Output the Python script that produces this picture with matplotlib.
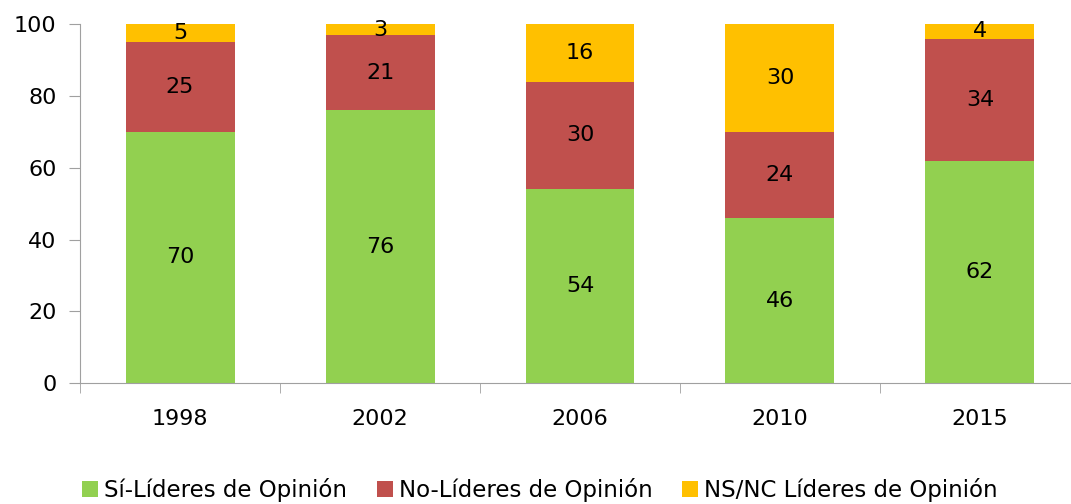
import matplotlib.pyplot as plt
import numpy as np

years = ['1998', '2002', '2006', '2010', '2015']
si = [70, 76, 54, 46, 62]
no = [25, 21, 30, 24, 34]
nsnc = [5, 3, 16, 30, 4]

labels = ['Sí-Líderes de Opinión', 'No-Líderes de Opinión', 'NS/NC Líderes de Opinión']
colors = ['#92D050', '#C0504D', '#FFC000']

plt.rcParams['font.family'] = ['DejaVu Sans']
fig = plt.figure(figsize=(10.71, 5.04), dpi=100)
ax = fig.add_axes([0.0747, 0.240, 0.9337, 0.712])

x = np.arange(len(years))
bottom = np.zeros(len(years))
for vals, lab, col in zip([si, no, nsnc], labels, colors):
    bars = ax.bar(x, vals, 0.545, bottom=bottom, color=col, label=lab)
    for rect, v in zip(bars, vals):
        ax.text(rect.get_x() + rect.get_width() / 2, rect.get_y() + v / 2, str(v),
                ha='center', va='center', fontsize=16)
    bottom += np.array(vals)

ax.set_xlim(-0.5, 4.5)
ax.set_ylim(0, 100)
ax.set_yticks(range(0, 101, 20))
ax.set_xticks(x)
ax.set_xticklabels(years)
ax.set_xticks(np.arange(-0.5, 5, 1), minor=True)
ax.tick_params(axis='x', which='major', length=0, pad=19, labelsize=16)
ax.tick_params(axis='x', which='minor', length=7, color='#A0A0A0', direction='out')
ax.tick_params(axis='y', length=8, color='#A0A0A0', labelsize=16, pad=9)

for side in ['top', 'right']:
    ax.spines[side].set_visible(False)
for side in ['left', 'bottom']:
    ax.spines[side].set_color('#A0A0A0')

ax.legend(loc='center', bbox_to_anchor=(0.46, -0.298), ncol=3, frameon=False,
          fontsize=16.5, handlelength=0.7, handleheight=0.7, handletextpad=0.25, columnspacing=1.3)

fig.savefig('out.png', dpi=100)
